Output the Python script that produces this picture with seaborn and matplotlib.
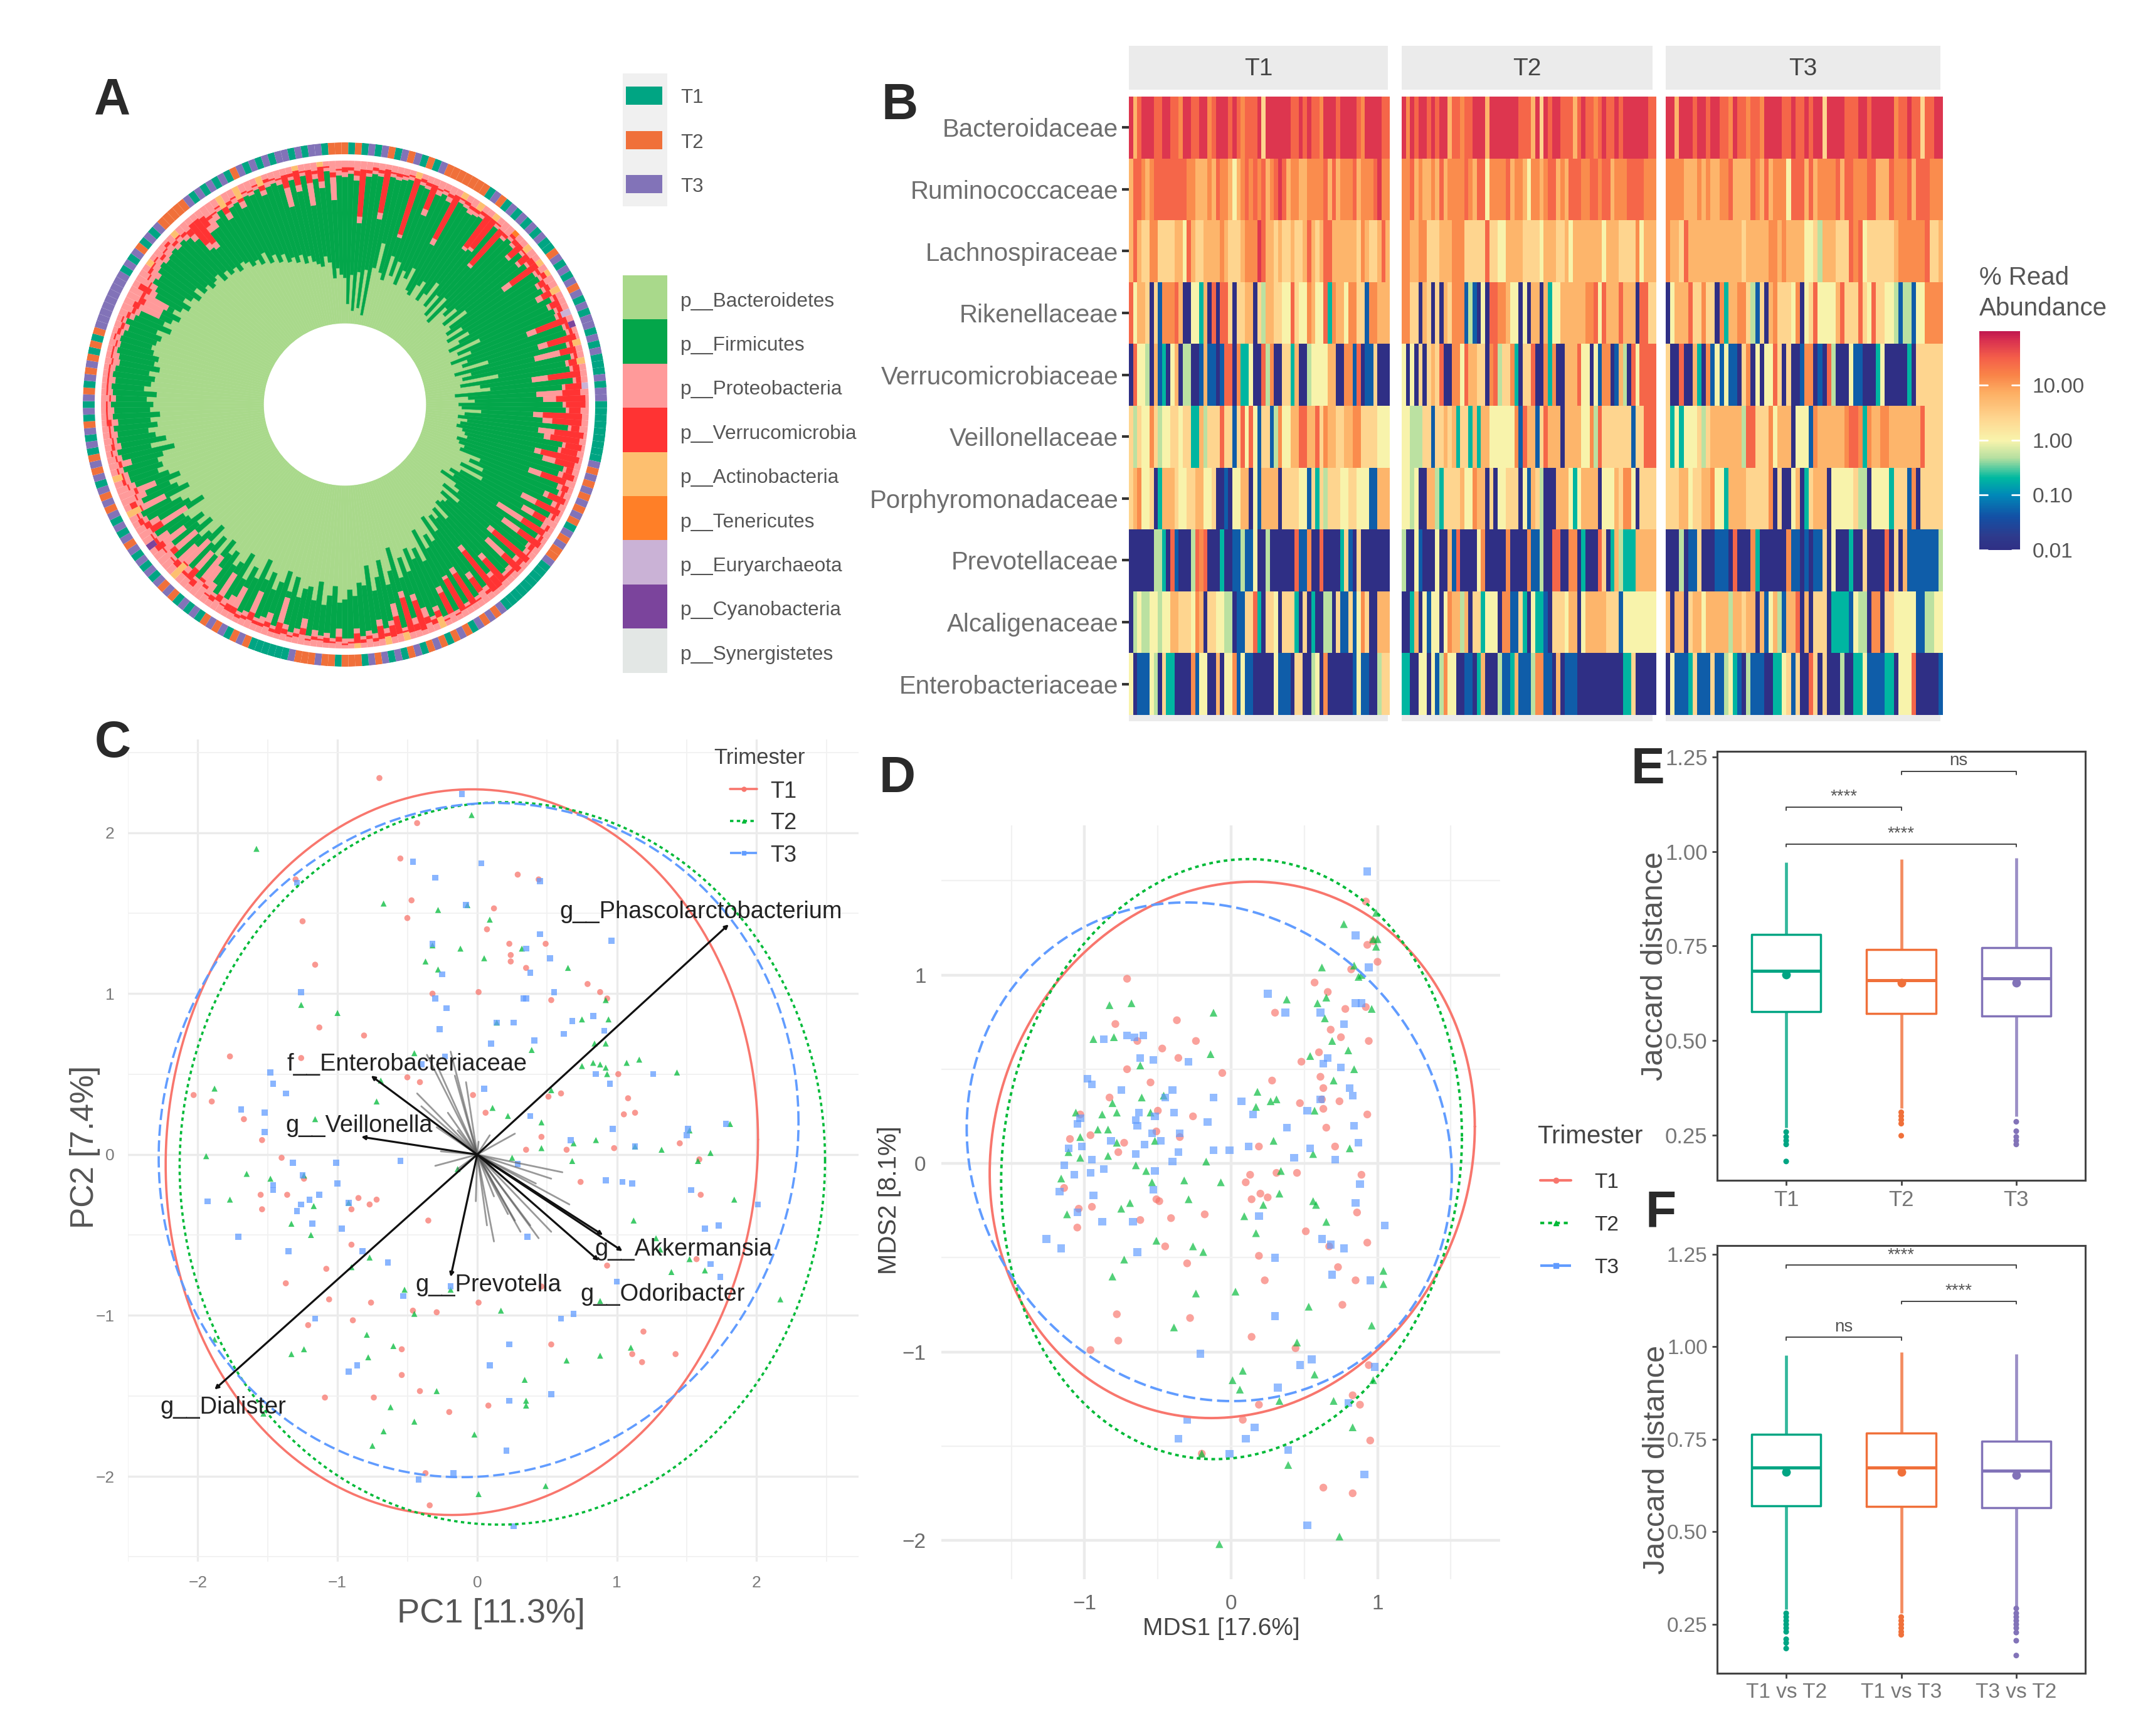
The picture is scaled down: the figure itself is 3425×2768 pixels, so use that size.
import numpy as np
import pandas as pd
import matplotlib
matplotlib.use("Agg")
import matplotlib.pyplot as plt
import seaborn as sns
from matplotlib.cm import ScalarMappable
from matplotlib.colors import LinearSegmentedColormap, LogNorm

W, H = 3425, 2768

# --- panel A: circular stacked bars, cumulative % per sample, clockwise from top ---
PHYLA = ["p__Bacteroidetes", "p__Firmicutes", "p__Proteobacteria", "p__Verrucomicrobia", "p__Actinobacteria",
         "p__Tenericutes", "p__Euryarchaeota", "p__Cyanobacteria", "p__Synergistetes"]
PHYLA_COLORS = ["#A9D98B", "#03A64A", "#FF9A9A", "#FF3333", "#FDBF6F", "#FF7F27", "#CAB2D6", "#7B449C", "#E3E7E5"]

BACT_TOP = [
    28, 12, 30, 8, 32, 10, 34, 6, 36, 52, 34, 30, 46, 34, 44, 30, 40, 36, 44, 30, 28, 36, 40, 28,
    34, 44, 28, 38, 24, 40, 22, 36, 32, 40, 28, 44, 30, 26, 36, 24, 38, 30, 22, 42, 26, 34, 20, 30,
    26, 42, 20, 30, 24, 46, 22, 34, 40, 18, 26, 30, 20, 22, 34, 24, 20, 26, 22, 20, 24, 26, 28, 22,
    24, 28, 26, 40, 34, 44, 30, 46, 32, 26, 30, 22, 34, 38, 28, 42, 30, 36, 34, 32, 44, 34, 40, 36,
    46, 34, 50, 44, 52, 38, 58, 48, 54, 46, 60, 50, 62, 42, 56, 64, 48, 58, 66, 50, 62, 60, 68, 64,
    70, 72, 62, 68, 74, 60, 72, 64, 66, 72, 60, 70, 58, 66, 72, 62, 68, 56, 70, 64, 74, 58, 66, 70,
    62, 66, 58, 72, 60, 68, 56, 64, 70, 58, 66, 60, 68, 70, 54, 62, 66, 72, 58, 64, 68, 60, 66, 72,
    68, 70, 66, 58, 72, 62, 68, 72, 66, 70, 64, 70, 68, 72, 66, 74, 70, 68, 72, 66, 70, 68, 72, 74,
    72, 70, 74, 66, 72, 68, 64, 70, 66, 62, 68, 64, 60, 66, 60, 62, 58, 60, 62, 56, 60, 56, 58, 54,
    58, 56, 52, 54, 50, 56, 48, 52, 46, 50, 44, 46, 42, 46, 40, 44, 40, 38, 36, 42, 38, 28, 34, 30]
FIRM_TOP = [
    90, 92, 88, 62, 91, 93, 92, 66, 93, 92, 93, 94, 58, 93, 92, 76, 91, 93, 90, 62, 93, 92, 90, 91,
    92, 70, 72, 93, 64, 90, 93, 91, 84, 92, 86, 90, 70, 91, 92, 88, 90, 84, 92, 88, 91, 90, 70, 92,
    93, 74, 91, 70, 92, 88, 90, 66, 91, 84, 68, 72, 84, 86, 66, 72, 88, 70, 74, 86, 84, 70, 76, 90,
    88, 70, 90, 92, 84, 91, 72, 93, 76, 92, 62, 93, 70, 91, 92, 66, 90, 70, 91, 92, 74, 86, 62, 91,
    78, 93, 70, 93, 72, 94, 76, 94, 86, 91, 84, 74, 88, 70, 92, 76, 86, 90, 84, 92, 90, 93, 88, 94,
    94, 88, 94, 91, 93, 90, 94, 84, 91, 94, 90, 74, 93, 86, 90, 92, 76, 91, 93, 78, 86, 90, 74, 91,
    86, 76, 70, 90, 72, 88, 68, 76, 90, 70, 86, 74, 84, 91, 66, 84, 90, 92, 74, 88, 84, 76, 88, 90,
    90, 92, 86, 91, 93, 90, 92, 91, 93, 90, 93, 92, 94, 91, 93, 94, 92, 94, 93, 91, 92, 94, 93, 94,
    93, 91, 94, 90, 88, 76, 76, 74, 84, 86, 90, 88, 91, 92, 90, 91, 92, 90, 92, 90, 86, 76, 74, 84,
    84, 88, 92, 84, 90, 91, 86, 92, 91, 93, 88, 92, 93, 91, 76, 92, 84, 93, 74, 90, 84, 94, 76, 91]
PROT_TOP = [
    93, 94, 91, 66, 93, 95, 94, 70, 95, 94, 95, 96, 60, 95, 94, 80, 94, 95, 93, 66, 95, 94, 93, 93,
    94, 72, 74, 95, 66, 92, 95, 93, 86, 94, 88, 92, 76, 93, 94, 90, 92, 88, 94, 90, 93, 92, 76, 94,
    95, 80, 93, 86, 94, 90, 92, 76, 93, 86, 84, 80, 86, 88, 72, 78, 90, 80, 78, 88, 86, 74, 84, 92,
    91, 78, 93, 94, 87, 94, 82, 95, 84, 95, 80, 95, 82, 93, 95, 70, 93, 84, 94, 94, 78, 89, 66, 94,
    82, 95, 74, 95, 74, 96, 80, 96, 89, 93, 90, 78, 92, 74, 94, 84, 89, 93, 88, 95, 93, 95, 91, 96,
    97, 93, 96, 94, 95, 94, 96, 90, 94, 96, 93, 90, 95, 92, 94, 94, 90, 94, 95, 92, 92, 94, 90, 93,
    94, 90, 88, 92, 86, 92, 88, 90, 92, 86, 92, 90, 92, 93, 84, 90, 93, 94, 90, 92, 90, 88, 92, 93,
    93, 95, 92, 94, 96, 94, 94, 95, 95, 94, 96, 96, 96, 94, 96, 96, 96, 96, 96, 95, 96, 96, 95, 97,
    95, 94, 96, 93, 91, 90, 88, 90, 88, 90, 93, 94, 95, 96, 93, 95, 96, 93, 95, 93, 90, 80, 78, 88,
    91, 92, 94, 88, 92, 94, 90, 94, 93, 95, 91, 95, 95, 94, 88, 94, 88, 95, 88, 93, 88, 96, 90, 94]
VERR_TOP = [
    96, 96, 94, 95, 95, 97, 96, 97, 96, 96, 96, 97, 96, 97, 96, 96, 95, 96, 95, 96, 96, 96, 95, 95,
    96, 96, 96, 96, 94, 94, 97, 96, 96, 95, 95, 96, 96, 95, 97, 94, 95, 94, 96, 96, 96, 94, 96, 96,
    97, 98, 95, 96, 96, 95, 96, 96, 96, 96, 95, 98, 98, 95, 96, 96, 95, 98, 96, 98, 96, 98, 96, 96,
    98, 94, 97, 96, 98, 96, 98, 97, 92, 97, 96, 97, 98, 96, 96, 98, 96, 98, 96, 96, 96, 97, 97, 96,
    92, 96, 96, 96, 96, 97, 94, 97, 93, 96, 94, 97, 96, 96, 95, 95, 96, 95, 96, 97, 95, 97, 97, 97,
    98, 96, 97, 97, 96, 96, 97, 94, 96, 97, 96, 97, 97, 95, 96, 96, 95, 96, 97, 96, 96, 95, 94, 96,
    95, 92, 90, 96, 94, 94, 89, 94, 93, 90, 93, 96, 94, 94, 92, 94, 96, 95, 91, 96, 91, 90, 93, 95,
    94, 96, 94, 95, 97, 96, 95, 96, 96, 97, 97, 97, 97, 95, 97, 97, 97, 97, 97, 96, 97, 97, 96, 98,
    97, 96, 97, 95, 93, 94, 92, 92, 96, 91, 94, 96, 96, 97, 95, 96, 98, 95, 96, 95, 94, 96, 96, 95,
    93, 93, 95, 92, 94, 95, 92, 95, 94, 96, 94, 97, 96, 95, 96, 96, 97, 96, 96, 95, 97, 97, 93, 95]
# samples whose remaining share is not Proteobacteria: sample index, phylum index
MINOR_SAMPLES = [12, 20, 23, 26, 30, 33, 36, 38, 41, 45, 47, 50, 53, 57, 104, 110, 113, 118, 150, 156,
                 162, 168, 204, 210, 219, 222, 226, 232, 236]
MINOR_PHYLA = [4, 4, 4, 4, 5, 4, 4, 4, 4, 6, 7, 4, 4, 6, 4, 4, 4, 4, 4, 7, 4, 4, 4, 4, 4, 4, 4, 4, 4]
RING_TRIMESTER = ("212131321323121322222221" "321313131311231313231313" "313131113133111111111323"
                  "232323213232231111111113" "232312321232132131323122" "212232223111111232132321"
                  "313123231313132313132323" "132321313213132132321212" "333333333131321313222223"
                  "131313123131313313133122")
TRI_LABELS = ["T1", "T2", "T3"]
TRI_FILL = ["#00A583", "#F0703A", "#8273B8"]

# --- panel B: % read abundance, one digit per sample = index into ABUNDANCE_LEVELS ---
FAMILIES = ["Bacteroidaceae", "Ruminococcaceae", "Lachnospiraceae", "Rikenellaceae", "Verrucomicrobiaceae",
            "Veillonellaceae", "Porphyromonadaceae", "Prevotellaceae", "Alcaligenaceae", "Enterobacteriaceae"]
ABUNDANCE_LEVELS = [0.01, 0.05, 0.2, 0.5, 1.0, 2.5, 6.0, 13.0, 27.0, 60.0]
CBAR_TICKS = [0.01, 0.1, 1, 10]
CBAR_TICKLABELS = ["0.01", "0.10", "1.00", "10.00"]
HEAT_T1 = [
    "96899988998879988997899989878889599999988989887999899998799998",
    "68876788888888776667687764678787867898677667777868677786777897",
    "686557755556648655666676555677798665655655686568866666657655686",
    "84665051777860044260808850556605366554485447644827664775517766",
    "08443061204603300161101880722400837005526003444466007718011500",
    "53544753445545522635558551584841551374466886685766556677555544",
    "56744502666544556644500104466041666605555441525355544554441166",
    "00000033208100038780002001131140030000008117008000025105000000",
    "03433443446655547605544330115582055405552050200330511514750066",
    "40111430522000071440060447141100000411105500340700000014110035"]
HEAT_T2 = [
    "9798998989968878899969999999888695989988868988789889899999988",
    "7786766768677778768847777867764776788676888778878867778888777",
    "7766775556667775555585544666655554666556466666664666555574666",
    "7755065050657771310408877644040660624466666677848666866608855",
    "4040505658007748665507835572055800727006668440417701630848888",
    "4433355155656255262664444447186615866606666447385555555155888",
    "4434006632555564476605044555041653000666424666604446577405555",
    "3004100040061800004700000700007113008800770200085026322266666",
    "0026041440476636055244407711520422105554660466666555144444444",
    "2200440413744001102600031126111377110601110000000000022500000"]
HEAT_T3 = [
    "99699989989988798878879999889889899599998889989999978898858899",
    "77776667676677866668768677748886867777868877788666877786888777",
    "76658666666666666566666776766664453666555878455555567777778556",
    "04666855755072667753150675554704584444685558548554431331447777",
    "50080062071414110570404485050017701083000411000240000020555555",
    "52424445356666666388555746660444176666667887276677666666685555",
    "55566455667442666655555705004602566604444453304444255517055555",
    "00030115000111080007200000071101011504000200500008050611111113",
    "60660566466666366566061463166806055502222143307705544444113344",
    "04111251115113421031110022451500850500030022411112204448000001"]

# --- panel C: PCA biplot, (PC1, PC2) per sample ---
PCA_T1 = [(-0.70, 2.34), (-0.55, 1.84), (-0.43, 2.06), (-0.47, 1.58), (-0.50, 1.47), (-1.30, 1.71), (-1.25, 1.45),
          (-1.16, 1.18), (-1.13, 0.79), (-1.26, 0.60), (-0.81, 0.74), (-1.77, 0.61), (-2.03, 0.37), (-1.90, 0.33),
          (-1.67, 0.22), (-1.54, 0.09), (-1.40, -0.02), (-1.55, -0.25), (-1.54, -0.34), (-1.36, -0.25), (-1.24, -0.15),
          (-0.85, -0.27), (-0.72, -0.28), (-0.77, -0.31), (-0.90, -0.34), (-0.90, -0.56), (-0.35, -0.41), (-1.37, -0.80),
          (-1.08, -0.71), (-1.06, -0.90), (-0.76, -0.92), (-1.21, -1.06), (-0.89, -1.03), (-0.46, -0.97), (-0.29, -0.98),
          (0.01, -0.92), (0.46, -0.82), (-0.54, -1.21), (-0.54, -1.37), (-1.09, -1.51), (-0.74, -1.51), (-0.41, -1.47),
          (-0.20, -1.60), (0.08, -1.56), (-0.37, -1.98), (-0.34, -2.18), (0.53, -1.18), (1.19, -1.10), (1.11, -1.24),
          (1.18, -1.29), (1.42, -1.24), (0.93, -0.69), (1.57, -0.65), (1.60, -0.25), (0.74, -0.17), (0.98, 0.04),
          (1.45, 0.07), (1.59, -0.03), (1.05, 0.25), (1.13, 0.26), (1.08, 0.35), (1.01, 0.50), (0.79, 1.06), (0.88, 1.01),
          (0.93, 0.97), (0.53, 0.96), (0.01, 1.01), (-0.32, 1.00), (0.07, 1.40), (0.12, 1.53), (0.29, 1.74), (0.44, 1.71),
          (0.23, 1.31), (0.24, 1.24), (0.24, 1.20), (0.35, 1.16), (0.49, 1.31), (0.51, 0.36), (0.60, 0.38), (0.46, 0.11),
          (0.35, 0.03), (0.64, 0.03), (0.06, 0.26), (-0.03, 0.37), (-0.41, 0.45), (-0.50, 0.48)]
PCA_T2 = [(-1.58, 1.90), (-0.04, 2.11), (-0.67, 1.56), (-0.28, 1.52), (-0.07, 1.55), (0.09, 1.46), (-0.32, 1.30),
          (-0.37, 1.20), (-0.28, 1.15), (-0.12, 1.28), (0.05, 1.22), (0.32, 1.28), (0.65, 1.16), (-1.26, 0.93),
          (-1.00, 0.88), (0.14, 0.82), (0.92, 0.96), (0.94, 0.84), (0.75, 0.84), (0.84, 0.69), (0.92, 0.69), (0.39, 0.65),
          (-0.45, 0.63), (-0.69, 0.46), (-0.72, 0.33), (0.11, 0.29), (0.22, 0.24), (0.46, 0.20), (0.53, 0.40), (0.75, 0.55),
          (0.83, 0.57), (0.88, 0.56), (0.93, 0.50), (0.92, 0.54), (1.07, 0.57), (1.16, 0.59), (1.43, 0.51), (1.81, 0.19),
          (1.52, 0.15), (1.67, 0.01), (1.58, -0.04), (1.32, 0.03), (1.13, 0.05), (0.85, 0.09), (0.69, 0.07), (0.68, -0.04),
          (0.46, 0.04), (0.25, -0.02), (1.84, -0.28), (1.12, -0.41), (1.28, -0.52), (1.31, -0.59), (1.39, -0.73),
          (1.52, -0.65), (1.63, -0.72), (2.17, -0.90), (0.88, -0.91), (0.17, -0.97), (-0.19, -0.84), (-0.52, -0.84),
          (-0.45, -0.99), (-0.77, -0.64), (-0.90, -0.70), (-1.88, 0.41), (-1.16, 0.22), (-1.94, -0.01), (-1.65, -0.12),
          (-1.48, -0.15), (-1.77, -0.28), (-1.24, -0.13), (-1.17, -0.32), (-1.33, -0.43), (-1.19, -0.50), (-0.92, -0.30),
          (-0.79, -1.12), (-1.33, -1.24), (-1.24, -1.21), (-0.78, -1.26), (-0.60, -1.19), (-1.88, -1.15), (-0.29, -1.47),
          (-0.62, -1.57), (-0.45, -1.66), (-0.67, -1.72), (-0.75, -1.81), (-0.02, -1.74), (0.34, -1.40), (0.35, -1.53),
          (0.35, -1.56), (0.01, -2.11), (0.49, -2.06), (0.64, -1.28), (0.88, -1.25), (1.10, -1.20), (-1.53, -1.61),
          (-0.14, -0.09)]
PCA_T3 = [(-0.11, 2.24), (-0.46, 1.82), (-0.30, 1.72), (0.03, 1.81), (-0.08, 1.55), (-1.29, 1.69), (0.45, 1.70),
          (0.45, 1.37), (0.96, 1.33), (-0.32, 1.31), (0.35, 1.28), (0.52, 1.22), (-0.25, 1.12), (0.38, 1.13), (-1.26, 1.01),
          (-0.30, 0.97), (0.33, 0.97), (0.35, 0.97), (0.55, 1.01), (-0.22, 0.91), (0.14, 0.82), (0.26, 0.82), (0.68, 0.83),
          (0.83, 0.86), (0.62, 0.75), (0.91, 0.77), (-0.27, 0.78), (0.10, 0.69), (0.41, 0.71), (-0.23, 0.61), (-0.40, 0.56),
          (0.05, 0.41), (0.85, 0.50), (0.95, 0.44), (1.26, 0.50), (-1.48, 0.51), (-1.46, 0.44), (-1.37, 0.38), (-1.69, 0.28),
          (-1.52, 0.26), (-1.52, 0.14), (-1.32, -0.05), (-1.01, -0.05), (-0.55, -0.04), (0.38, 0.24), (0.67, 0.09),
          (0.97, 0.16), (1.13, 0.05), (1.50, 0.12), (1.51, 0.16), (1.78, 0.19), (0.29, -0.06), (0.92, -0.16), (1.04, -0.17),
          (1.11, -0.18), (1.53, -0.22), (2.01, -0.31), (1.63, -0.46), (1.73, -0.44), (0.36, -0.51), (-1.93, -0.29),
          (-1.71, -0.51), (-1.46, -0.19), (-1.46, -0.22), (-1.25, -0.13), (-1.00, -0.18), (-1.20, -0.28), (-1.13, -0.25),
          (-1.26, -0.31), (-1.29, -0.35), (-1.18, -0.43), (-0.97, -0.46), (-0.92, -0.30), (-1.35, -0.60), (-0.82, -0.60),
          (-0.64, -0.67), (-0.53, -0.88), (-0.19, -0.82), (1.00, -0.79), (1.67, -0.68), (1.74, -0.76), (0.60, -1.02),
          (0.69, -0.99), (-1.16, -1.02), (0.23, -1.18), (0.09, -1.31), (-0.86, -1.31), (-0.92, -1.35), (0.23, -1.53),
          (0.53, -1.49), (0.21, -1.84), (-0.17, -1.98), (-0.42, -2.02), (0.26, -2.31)]
# ellipses: centre x, centre y, half width, half height, tilt in degrees
PCA_ELLIPSES = {"T1": (-0.11, 0.015, 2.12, 2.255, 2), "T2": (0.18, -0.055, 2.31, 2.245, 0.5), "T3": (0.01, 0.09, 2.29, 2.095, 3)}
LOADING_NAMES = ["g__Phascolarctobacterium", "f__Enterobacteriaceae", "g__Veillonella", "g__Prevotella",
                 "g__Akkermansia", "g__Odoribacter", "g__Dialister"]
LOADING_TIPS = [(1.80, 1.43), (-0.76, 0.49), (-0.83, 0.11), (-0.19, -0.76), (1.04, -0.60), (0.87, -0.66), (-1.88, -1.46)]
LOADING_LABEL_AT = [(0.59, 1.51), (-1.36, 0.56), (-1.37, 0.18), (-0.44, -0.81), (0.84, -0.59), (0.74, -0.87), (-2.27, -1.57)]
EXTRA_TIP = (0.90, -0.50)
MINOR_LOADINGS = [(-0.36, 0.62), (-0.29, 0.56), (-0.19, 0.64), (-0.16, 0.49), (-0.08, 0.45), (-0.43, 0.38), (-0.40, 0.30),
                  (-0.21, 0.26), (-0.29, 0.17), (-0.14, 0.15), (-0.30, -0.07), (-0.14, -0.09), (-0.26, 0.02), (0.01, 0.08),
                  (0.27, 0.13), (0.09, 0.12), (0.61, -0.11), (0.66, -0.31), (0.53, -0.15), (0.42, -0.18), (0.53, -0.48),
                  (0.44, -0.52), (0.31, -0.48), (0.22, -0.37), (0.12, -0.54), (0.07, -0.44), (-0.01, -0.29), (0.27, -0.41),
                  (0.38, -0.44), (0.12, -0.26)]

# --- panel D: MDS, (MDS1, MDS2) per sample ---
MDS_T1 = [(0.92, 1.39), (0.97, 1.18), (0.93, 1.16), (1.00, 1.07), (0.82, 1.03), (-0.71, 0.98), (0.57, 0.96), (0.66, 0.91),
          (0.30, 0.80), (0.78, 0.82), (0.92, 0.83), (-0.79, 0.74), (-0.37, 0.76), (0.68, 0.71), (0.75, 0.67), (0.94, 0.65),
          (-0.64, 0.65), (-0.24, 0.65), (-0.47, 0.61), (-0.36, 0.56), (0.48, 0.54), (0.60, 0.59), (-0.71, 0.50), (-0.06, 0.48),
          (0.61, 0.46), (0.28, 0.44), (-0.55, 0.43), (-0.83, 0.35), (0.63, 0.40), (0.47, 0.32), (0.74, 0.33), (0.62, 0.34),
          (0.63, 0.29), (0.93, 0.26), (-0.26, 0.25), (-0.50, 0.28), (0.65, 0.19), (-1.03, 0.26), (-0.96, 0.15), (-1.10, 0.13),
          (-0.77, 0.06), (-0.73, 0.11), (-0.35, 0.14), (-0.51, 0.17), (0.19, 0.09), (0.71, 0.09), (0.45, -0.05), (0.13, -0.06),
          (0.10, -0.10), (0.31, -0.05), (0.89, -0.06), (-1.14, -0.13), (0.20, -0.16), (0.14, -0.19), (0.25, -0.18),
          (-1.04, -0.24), (-0.95, -0.23), (-0.51, -0.19), (-0.49, -0.20), (-0.18, -0.27), (-0.62, -0.30), (-0.41, -0.29),
          (-1.05, -0.34), (0.86, -0.26), (0.51, -0.36), (0.93, -0.42), (0.67, -0.44), (-0.45, -0.44), (-0.30, -0.53),
          (0.19, -0.49), (0.73, -0.55), (0.23, -0.62), (0.85, -0.62), (0.76, -0.75), (-0.78, -0.80), (-0.28, -0.82),
          (-0.77, -0.94), (0.14, -0.92), (0.44, -0.98), (-0.96, -0.99), (0.94, -1.07), (0.83, -1.23), (0.19, -1.28),
          (0.88, -1.28), (0.08, -1.36), (0.95, -1.47), (0.63, -1.72), (0.83, -1.75), (-0.20, -1.54)]
MDS_T2 = [(0.99, 1.33), (0.77, 1.27), (1.00, 1.19), (0.97, 1.19), (0.99, 1.15), (0.62, 1.04), (0.84, 1.05), (0.87, 0.99),
          (0.89, 1.00), (0.96, 0.82), (0.65, 0.88), (0.59, 0.85), (0.38, 0.87), (-0.83, 0.84), (-0.68, 0.85), (-0.12, 0.80),
          (0.64, 0.77), (-0.94, 0.66), (-0.80, 0.67), (0.69, 0.65), (0.80, 0.60), (0.54, 0.57), (-0.14, 0.58), (-0.62, 0.52),
          (0.84, 0.50), (0.70, 0.44), (0.18, 0.38), (-0.61, 0.35), (-0.46, 0.36), (0.27, 0.33), (0.31, 0.34), (0.17, 0.30),
          (0.57, 0.28), (-0.81, 0.32), (-1.06, 0.27), (-0.88, 0.26), (-0.78, 0.27), (-0.55, 0.27), (-0.91, 0.18), (-0.84, 0.18),
          (-1.03, 0.14), (-0.78, 0.11), (-0.52, 0.12), (0.29, 0.12), (0.81, 0.08), (-1.11, 0.06), (-0.84, 0.04), (-1.03, 0.03),
          (0.56, 0.05), (-0.65, -0.01), (-0.17, 0.01), (-0.58, -0.04), (-1.16, -0.08), (-0.54, -0.10), (-0.32, -0.09),
          (-0.07, -0.10), (0.34, -0.04), (0.33, -0.16), (-0.29, -0.19), (-0.69, -0.21), (-0.75, -0.24), (0.56, -0.20),
          (0.58, -0.22), (0.22, -0.22), (0.09, -0.28), (-1.12, -0.27), (0.17, -0.37), (0.65, -0.31), (-0.51, -0.41),
          (-0.26, -0.44), (-0.19, -0.47), (-0.73, -0.51), (-0.81, -0.60), (1.04, -0.57), (1.04, -0.64), (-0.24, -0.69),
          (0.03, -0.68), (0.53, -0.76), (-0.39, -0.87), (0.96, -0.86), (0.45, -0.95), (0.08, -1.10), (0.01, -1.15),
          (0.06, -1.20), (0.57, -1.12), (0.97, -1.15), (0.33, -1.26), (0.70, -1.26), (0.83, -1.40), (-0.20, -1.54),
          (0.39, -1.60), (-0.08, -2.02), (0.74, -1.98)]
MDS_T3 = [(0.93, 1.55), (0.85, 1.21), (0.94, 1.04), (0.25, 0.90), (0.37, 0.80), (0.85, 0.85), (0.89, 0.85), (0.61, 0.80),
          (0.77, 0.74), (-0.87, 0.66), (-0.71, 0.68), (-0.66, 0.67), (-0.60, 0.68), (-0.62, 0.56), (-0.53, 0.55), (-0.29, 0.54),
          (0.66, 0.56), (0.63, 0.53), (0.75, 0.51), (-0.98, 0.45), (-0.95, 0.42), (-0.75, 0.39), (-0.40, 0.39), (-0.45, 0.35),
          (-0.12, 0.35), (0.07, 0.33), (0.81, 0.40), (0.83, 0.36), (0.61, 0.34), (0.52, 0.28), (0.15, 0.26), (-0.39, 0.27),
          (-0.63, 0.27), (-0.65, 0.23), (-0.52, 0.25), (-0.64, 0.20), (-1.03, 0.24), (-1.05, 0.21), (-0.16, 0.22), (0.38, 0.19),
          (0.84, 0.20), (-0.35, 0.16), (-0.54, 0.16), (-0.48, 0.12), (-0.82, 0.12), (-0.59, 0.10), (-1.11, 0.08), (-1.02, 0.09),
          (0.87, 0.11), (0.12, 0.09), (0.54, 0.08), (-0.12, 0.07), (-0.01, 0.07), (-0.36, 0.06), (-0.65, 0.05), (-0.95, 0.02),
          (0.43, 0.03), (0.71, 0.02), (-0.40, 0.01), (-1.14, -0.01), (-0.87, -0.03), (-0.96, -0.05), (-1.07, -0.06),
          (-0.52, -0.04), (-1.17, -0.15), (-0.53, -0.14), (-0.94, -0.17), (0.88, -0.11), (0.85, -0.21), (-1.05, -0.26),
          (-0.88, -0.31), (-0.67, -0.31), (0.19, -0.28), (1.05, -0.33), (-1.26, -0.40), (-1.16, -0.45), (0.62, -0.40),
          (0.68, -0.43), (0.77, -0.45), (-0.64, -0.47), (0.30, -0.50), (0.69, -0.59), (0.95, -0.62), (0.30, -0.81),
          (-0.21, -1.01), (0.55, -1.04), (0.47, -1.07), (0.98, -1.08), (0.32, -1.19), (0.80, -1.27), (-0.30, -1.36),
          (0.16, -1.40), (-0.36, -1.46), (0.10, -1.46), (0.39, -1.52), (-0.01, -1.54), (0.91, -1.65), (0.52, -1.92)]
MDS_ELLIPSES = {"T1": (0.008, 0.072, 1.656, 1.423, 5), "T2": (0.003, 0.023, 1.573, 1.592, 4.3), "T3": (-0.149, 0.062, 1.656, 1.323, -5.4)}

# --- panels E and F: box stats (low whisker, q1, median, q3, high whisker), mean, outliers ---
E_LABELS = ["T1", "T2", "T3"]
E_BOXES = [[0.27, 0.576, 0.684, 0.781, 0.971], [0.32, 0.571, 0.66, 0.74, 0.98], [0.30, 0.565, 0.665, 0.745, 0.983]]
E_MEANS = [0.675, 0.652, 0.652]
E_OUTLIERS = [[0.258, 0.245, 0.235, 0.225, 0.18], [0.31, 0.30, 0.29, 0.28, 0.248], [0.285, 0.26, 0.245, 0.235, 0.225]]
E_BRACKETS = [(0, 1, 1.117, "****"), (1, 2, 1.212, "ns"), (0, 2, 1.02, "****")]
F_LABELS = ["T1 vs T2", "T1 vs T3", "T3 vs T2"]
F_BOXES = [[0.29, 0.57, 0.674, 0.763, 0.977], [0.28, 0.568, 0.674, 0.766, 0.985], [0.30, 0.565, 0.665, 0.744, 0.98]]
F_MEANS = [0.662, 0.662, 0.654]
F_OUTLIERS = [[0.28, 0.27, 0.26, 0.25, 0.24, 0.23, 0.21, 0.20, 0.185],
              [0.27, 0.26, 0.25, 0.24, 0.23, 0.222],
              [0.293, 0.28, 0.27, 0.26, 0.25, 0.24, 0.228, 0.206, 0.166]]
F_BRACKETS = [(0, 2, 1.22, "****"), (1, 2, 1.123, "****"), (0, 1, 1.025, "ns")]

POINT_COLORS = {"T1": "#F8766D", "T2": "#00BA38", "T3": "#619CFF"}
POINT_MARKERS = {"T1": "o", "T2": "^", "T3": "s"}
LINE_STYLES = {"T1": "-", "T2": (0, (1.5, 1.5)), "T3": (0, (5, 2))}
GREY_TEXT = "#6E6E6E"

sns.set_style("white")
plt.rcParams["font.family"] = ["Liberation Sans", "DejaVu Sans"]

fig = plt.figure(figsize=(W / 100, H / 100), dpi=100, facecolor="white")


def px_axes(x0, y0, x1, y1, **kw):
    return fig.add_axes([x0 / W, 1 - y1 / H, (x1 - x0) / W, (y1 - y0) / H], **kw)


def scatter_frame(t1, t2, t3):
    rows = [(x, y, t) for t, pts in zip(TRI_LABELS, (t1, t2, t3)) for x, y in pts]
    return pd.DataFrame(rows, columns=["x", "y", "Trimester"])


def draw_ellipses(ax, ellipses, lw):
    t = np.linspace(0, 2 * np.pi, 240)
    for name, (cx, cy, rx, ry, tilt) in ellipses.items():
        sns.lineplot(x=cx + rx * np.cos(t), y=cy + ry * np.sin(t + np.radians(tilt)), sort=False, estimator=None,
                     color=POINT_COLORS[name], linestyle=LINE_STYLES[name], linewidth=lw, ax=ax)


def minimal_grid(ax, major_lw, minor_lw):
    ax.set_axisbelow(True)
    ax.grid(which="major", color="#EBEBEB", linewidth=major_lw)
    ax.grid(which="minor", color="#F1F1F1", linewidth=minor_lw)
    sns.despine(ax=ax, left=True, bottom=True)


# --- A ---
ax_a = px_axes(550 - 418, 645 - 418, 550 + 418, 645 + 418, polar=True)
ax_a.set_theta_zero_location("N")
ax_a.set_theta_direction(-1)
ax_a.set_rorigin(-49.8)
ax_a.set_ylim(0, 111.2)
n_samples = len(BACT_TOP)
theta = np.arange(n_samples) * 2 * np.pi / n_samples
bar_w = 2 * np.pi / n_samples
tops = np.maximum.accumulate(np.array([BACT_TOP, FIRM_TOP, PROT_TOP, VERR_TOP]), axis=0)
ax_a.bar(theta, tops[0], width=bar_w, color=PHYLA_COLORS[0], linewidth=0.3, edgecolor=PHYLA_COLORS[0])
for i in range(1, 4):
    ax_a.bar(theta, tops[i] - tops[i - 1], bottom=tops[i - 1], width=bar_w, color=PHYLA_COLORS[i],
             linewidth=0.3, edgecolor=PHYLA_COLORS[i])
rest_colors = [PHYLA_COLORS[2]] * n_samples
for s, p in zip(MINOR_SAMPLES, MINOR_PHYLA):
    rest_colors[s] = PHYLA_COLORS[p]
ax_a.bar(theta, 100 - tops[3], bottom=tops[3], width=bar_w, color=rest_colors, linewidth=0)
ring_theta = np.arange(len(RING_TRIMESTER)) * 2 * np.pi / len(RING_TRIMESTER)
ring_colors = [TRI_FILL[int(c) - 1] for c in RING_TRIMESTER]
ax_a.bar(ring_theta, 7.3, bottom=103.9, width=2 * np.pi / len(RING_TRIMESTER), color=ring_colors, linewidth=0)
ax_a.axis("off")

# --- B ---
colours = [(0, "#2F2F85"), (0.06, "#2E3A8C"), (0.15, "#1350A5"), (0.25, "#0088B8"), (0.33, "#00B9A0"), (0.42, "#B5DFA0"),
           (0.5, "#F8F4AC"), (0.6, "#FED690"), (0.72, "#FDAE63"), (0.8, "#F98448"), (0.88, "#F45E49"), (0.96, "#D93050"),
           (1, "#C1184F")]
abund_cmap = LinearSegmentedColormap.from_list("abund", colours)
abund_norm = LogNorm(vmin=0.01, vmax=96.6)
facets = [("T1", HEAT_T1, 1800, 2216, 1800, 2213), ("T2", HEAT_T2, 2235, 2641, 2235, 2635), ("T3", HEAT_T3, 2656, 3098, 2656, 3094)]
for k, (name, rows, x0, x1, sx0, sx1) in enumerate(facets):
    n = max(len(r) for r in rows)
    # a row read a little short keeps its last reading
    grid = [[ABUNDANCE_LEVELS[int(c)] for c in r.ljust(n, r[-1])] for r in rows]
    ax = px_axes(x0, 154, x1, 1140)
    sns.heatmap(pd.DataFrame(grid, index=FAMILIES), cmap=abund_cmap, norm=abund_norm, cbar=False, xticklabels=False,
                yticklabels=FAMILIES if k == 0 else False, ax=ax)
    ax.set_xlabel("")
    ax.set_ylabel("")
    if k == 0:
        ax.tick_params(axis="y", left=True, length=8, width=3, color="#333333", labelsize=29, labelcolor=GREY_TEXT,
                       rotation=0, pad=4)
        for lab in ax.get_yticklabels():
            lab.set_va("center_baseline")

ax_cb = px_axes(3156, 528, 3221, 877)
cb = fig.colorbar(ScalarMappable(norm=abund_norm, cmap=abund_cmap), cax=ax_cb)
cb.outline.set_visible(False)
cb.set_ticks(CBAR_TICKS, labels=CBAR_TICKLABELS)
cb.ax.minorticks_off()
cb.ax.tick_params(length=0, labelsize=24, labelcolor="#555555", pad=14)
for v in CBAR_TICKS:
    ax_cb.plot([0, 0.2], [v, v], color="white", linewidth=2, transform=ax_cb.get_yaxis_transform())
    ax_cb.plot([0.8, 1], [v, v], color="white", linewidth=2, transform=ax_cb.get_yaxis_transform())

# --- C ---
ax_c = px_axes(204, 1179, 1369, 2490)
df_pca = scatter_frame(PCA_T1, PCA_T2, PCA_T3)
ax_c.set_xlim(-2.49, 2.73)
ax_c.set_ylim(-2.53, 2.58)
ax_c.set_xticks([-2, -1, 0, 1, 2])
ax_c.set_yticks([-2, -1, 0, 1, 2])
ax_c.set_xticks(np.arange(-2.5, 3, 1), minor=True)
ax_c.set_yticks(np.arange(-2.5, 3, 1), minor=True)
minimal_grid(ax_c, 2.4, 1.3)
sns.scatterplot(data=df_pca, x="x", y="y", hue="Trimester", style="Trimester", palette=POINT_COLORS, markers=POINT_MARKERS,
                s=48, alpha=0.75, linewidth=0, legend=False, ax=ax_c)
draw_ellipses(ax_c, PCA_ELLIPSES, 2.6)
for tx, ty in MINOR_LOADINGS:
    ax_c.plot([0, tx], [0, ty], color="#555555", alpha=0.6, linewidth=2)
for tip in LOADING_TIPS + [EXTRA_TIP]:
    ax_c.annotate("", xy=tip, xytext=(0, 0),
                  arrowprops=dict(arrowstyle="-|>,head_length=0.35,head_width=0.18", color="#111111", lw=2.3,
                                  shrinkA=0, shrinkB=0))
for name, (lx, ly) in zip(LOADING_NAMES, LOADING_LABEL_AT):
    ax_c.text(lx, ly, name, fontsize=27.4, color="#222222", va="center", ha="left")
ax_c.set_xlabel("")
ax_c.set_ylabel("")
ax_c.tick_params(labelsize=19, labelcolor="#7A7A7A", pad=12)

# --- D ---
ax_d = px_axes(1501, 1316, 2392, 2518)
df_mds = scatter_frame(MDS_T1, MDS_T2, MDS_T3)
ax_d.set_xlim(-1.978, 1.837)
ax_d.set_ylim(-2.206, 1.794)
ax_d.set_xticks([-1, 0, 1])
ax_d.set_yticks([-2, -1, 0, 1])
ax_d.set_xticks([-1.5, -0.5, 0.5, 1.5], minor=True)
ax_d.set_yticks([-1.5, -0.5, 0.5, 1.5], minor=True)
minimal_grid(ax_d, 3.2, 1.6)
sns.scatterplot(data=df_mds, x="x", y="y", hue="Trimester", style="Trimester", palette=POINT_COLORS, markers=POINT_MARKERS,
                s=80, alpha=0.68, linewidth=0, legend=False, ax=ax_d)
draw_ellipses(ax_d, MDS_ELLIPSES, 2.8)
ax_d.set_xlabel("")
ax_d.set_ylabel("")
ax_d.tick_params(labelsize=24, labelcolor="#6A6A6A", pad=14)


# --- E, F ---
def box_panel(ax, labels, boxes, means, outliers, brackets, ylim, tick_size):
    df = pd.DataFrame([(lab, v) for lab, box in zip(labels, boxes) for v in box], columns=["group", "dist"])
    palette = dict(zip(labels, TRI_FILL))
    sns.boxplot(data=df, x="group", y="dist", hue="group", order=labels, hue_order=labels, palette=palette, fill=False,
                width=0.6, whis=(0, 100), showfliers=False, showcaps=False, linewidth=2.5,
                medianprops=dict(linewidth=3.6), whiskerprops=dict(linewidth=3.4, alpha=0.8), legend=False, ax=ax)
    df_out = pd.DataFrame([(lab, v) for lab, vals in zip(labels, outliers) for v in vals], columns=["group", "dist"])
    sns.stripplot(data=df_out, x="group", y="dist", hue="group", order=labels, hue_order=labels, palette=palette,
                  jitter=False, size=6.5, linewidth=0, legend=False, ax=ax)
    df_mean = pd.DataFrame({"group": labels, "dist": means})
    sns.stripplot(data=df_mean, x="group", y="dist", hue="group", order=labels, hue_order=labels, palette=palette,
                  jitter=False, size=10, linewidth=0, legend=False, ax=ax)
    for a, b, y, txt in brackets:
        ax.plot([a, a, b, b], [y - 0.008, y, y, y - 0.008], color="#444444", linewidth=1.4)
        ax.text((a + b) / 2, y + 0.028, txt, ha="center", va="center", fontsize=20, color="#555555")
    ax.set_xlim(-0.6, 2.6)
    ax.set_ylim(*ylim)
    ax.set_yticks([0.25, 0.5, 0.75, 1.0, 1.25], labels=["0.25", "0.50", "0.75", "1.00", "1.25"])
    ax.set_xlabel("")
    ax.set_ylabel("Jaccard distance", fontsize=35, color="#555555", labelpad=-4)
    ax.tick_params(axis="both", bottom=True, left=True, length=6, width=2, color="#444444", labelsize=tick_size,
                   labelcolor="#777777", pad=5)
    for spine in ax.spines.values():
        spine.set_visible(True)
        spine.set_color("#444444")
        spine.set_linewidth(2.2)


ax_e = px_axes(2738, 1198, 3325, 1882)
box_panel(ax_e, E_LABELS, E_BOXES, E_MEANS, E_OUTLIERS, E_BRACKETS, (0.13, 1.265), 25)
ax_f = px_axes(2738, 1986, 3325, 2668)
box_panel(ax_f, F_LABELS, F_BOXES, F_MEANS, F_OUTLIERS, F_BRACKETS, (0.118, 1.273), 24)

# --- page furniture drawn in picture pixels ---
ov = fig.add_axes([0, 0, 1, 1], zorder=5)
ov.set_xlim(0, W)
ov.set_ylim(H, 0)
ov.axis("off")
ov.patch.set_alpha(0)

for letter, (x, y) in {"A": (150, 181), "B": (1406, 190), "C": (151, 1207), "D": (1402, 1263), "E": (2601, 1249),
                       "F": (2624, 1956)}.items():
    ov.text(x, y, letter, fontsize=58, fontweight="bold", color="#2A2A2A", ha="left", va="baseline")

# legend of panel A
ov.fill_between([993, 1064], 117, 329, color="#F0F0F0", linewidth=0)
for lab, col, y0 in zip(TRI_LABELS, TRI_FILL, [138, 209, 279]):
    ov.fill_between([998, 1056], y0, y0 + 29, color=col, linewidth=0)
    ov.text(1085, y0 + 15, lab, fontsize=22.5, color="#555555", va="center_baseline")
for i, (lab, col) in enumerate(zip(PHYLA, PHYLA_COLORS)):
    ov.fill_between([993, 1064], 439 + i * 70.4, 439 + (i + 1) * 70.4, color=col, linewidth=0)
    ov.text(1085, 477 + i * 70.4, lab, fontsize=22.8, color="#555555", va="center_baseline")

# facet strips of panel B
for name, rows, x0, x1, sx0, sx1 in facets:
    ov.fill_between([sx0, sx1], 73, 143, color="#EBEBEB", linewidth=0)
    ov.fill_between([sx0, sx1], 1140, 1150, color="#EBEBEB", linewidth=0)
    ov.text((sx0 + sx1) / 2, 110, name, fontsize=28, color="#444444", ha="center", va="center")
ov.text(3156, 439, "% Read", fontsize=29, color="#555555", va="center_baseline")
ov.text(3156, 488, "Abundance", fontsize=29, color="#555555", va="center_baseline")

# axis titles of C and D
ov.text(783, 2573, "PC1 [11.3%]", fontsize=39, color="#555555", ha="center", va="center")
ov.text(135, 1829, "PC2 [7.4%]", fontsize=37, color="#555555", ha="center", va="center", rotation=90)
ov.text(1947, 2597, "MDS1 [17.6%]", fontsize=28, color="#444444", ha="center", va="center")
ov.text(1418, 1914, "MDS2 [8.1%]", fontsize=29, color="#444444", ha="center", va="center", rotation=90)


def trimester_key(title_xy, title_size, ys, line_x, text_x, text_size, lw, ms, colour):
    ov.text(*title_xy, "Trimester", fontsize=title_size, color=colour, va="center_baseline")
    for lab, y in zip(TRI_LABELS, ys):
        ov.plot(line_x, [y, y], color=POINT_COLORS[lab], linestyle=LINE_STYLES[lab], linewidth=lw)
        ov.plot([sum(line_x) / 2], [y], marker=POINT_MARKERS[lab], color=POINT_COLORS[lab], markersize=ms, linewidth=0)
        ov.text(text_x, y, lab, fontsize=text_size, color="#333333", va="center_baseline")


trimester_key((1138, 1205), 25, [1258, 1309, 1360], [1164, 1207], 1228, 26, 2.6, 5, "#444444")
trimester_key((2451, 1808), 29, [1882, 1950, 2018], [2456, 2505], 2542, 24, 3.0, 6, "#444444")

fig.savefig("out.png", dpi=100)
